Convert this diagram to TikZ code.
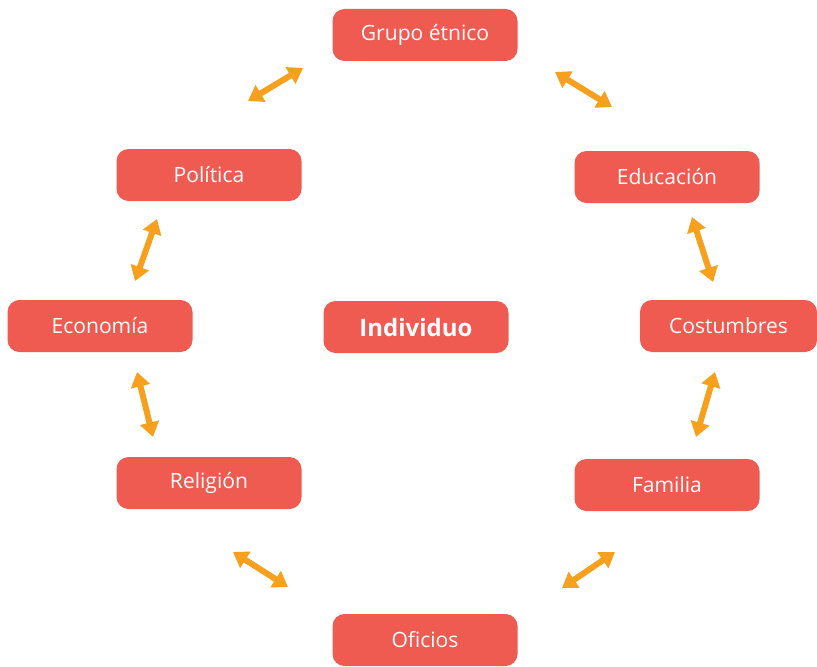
\documentclass[tikz,border=0pt]{standalone}
\usepackage{fontspec}
\setmainfont{Open Sans}
\usetikzlibrary{arrows.meta}

\definecolor{coral}{HTML}{EF5A51}
\definecolor{naranja}{HTML}{F6A01E}

\tikzset{
  caja/.style={fill=coral, text=white, rounded corners=9pt, minimum width=138.75pt,
    minimum height=39pt, inner sep=0pt, font=\fontsize{15.8}{18}\selectfont},
  flecha/.style={naranja, line width=4.5pt, {Triangle[length=11pt,width=14pt]}-{Triangle[length=11pt,width=14pt]}}
}

\begin{document}
\begin{tikzpicture}[x=0.75pt, y=-0.75pt] % 1 unidad = 1 px
            \useasboundingbox (0,0) rectangle (817,667);
            \node[caja, font=\fontsize{18}{21}\selectfont\bfseries] (Individuo) at (416,327) {Individuo};
            \node[caja] (Grupo) at (425,35) {Grupo étnico};
            \node[caja] (Politica) at (209,175) {Política};
            \node[caja] (Educacion) at (667,177) {Educación};
            \node[caja] (Economia) at (100,326) {Economía};
            \node[caja, minimum width=132.75pt] (Costumbres) at (728.5,326) {Costumbres};
            \node[caja] (Religion) at (209,483) {Religión};
            \node[caja] (Familia) at (667,485) {Familia};
            \node[caja] (Oficios) at (425,640) {Oficios};
            % puntas de las flechas
            \coordinate (PG1) at (248,101); \coordinate (PG2) at (303,68);
            \coordinate (GE1) at (555,72);  \coordinate (GE2) at (612,107);
            \coordinate (PE1) at (157,219); \coordinate (PE2) at (135,281);
            \coordinate (EC1) at (692,217); \coordinate (EC2) at (713,282);
            \coordinate (ER1) at (137,372); \coordinate (ER2) at (153,437);
            \coordinate (CF1) at (715,372); \coordinate (CF2) at (696,437);
            \coordinate (RO1) at (233,552); \coordinate (RO2) at (288,587);
            \coordinate (FO1) at (615,552); \coordinate (FO2) at (562,588);
            \foreach \a/\b in {PG1/PG2, GE1/GE2, PE1/PE2, EC1/EC2, ER1/ER2, CF1/CF2, RO1/RO2, FO1/FO2}
              \draw[flecha] (\a) -- (\b);
        \end{tikzpicture}
\end{document}
